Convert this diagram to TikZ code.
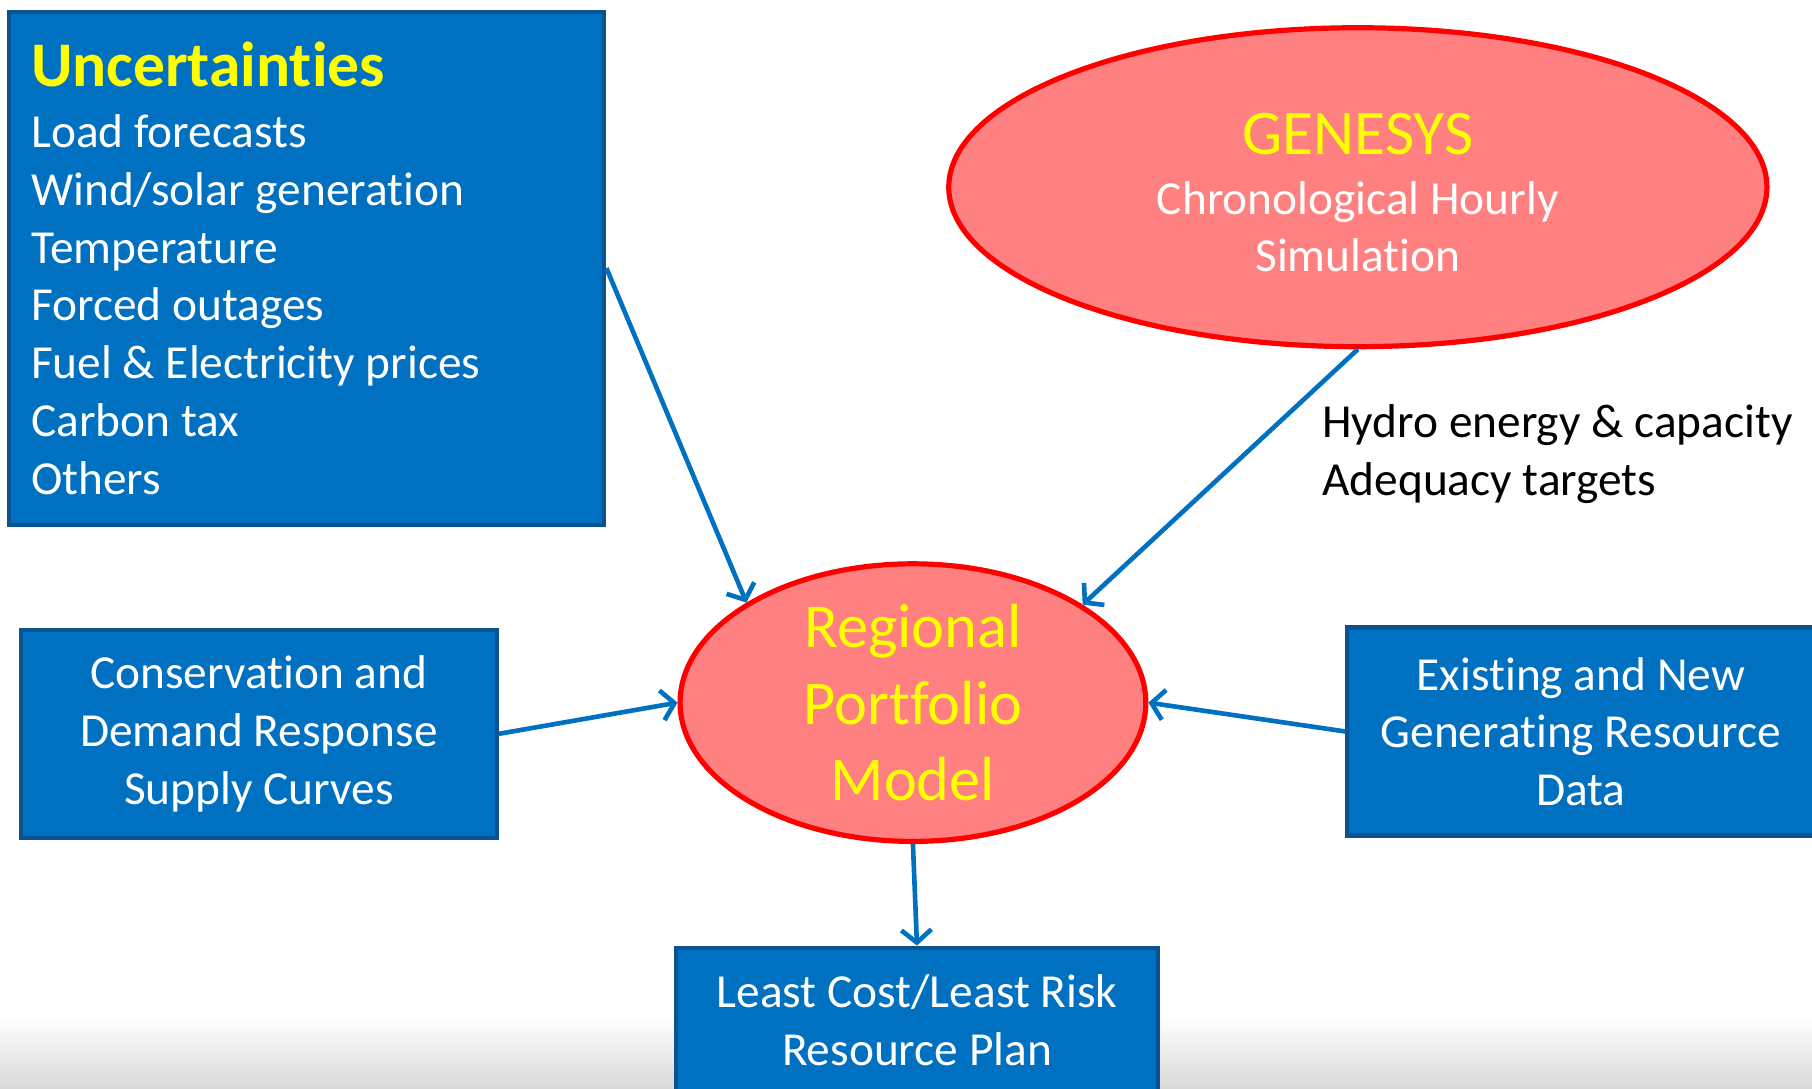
\documentclass[tikz,border=0pt]{standalone}
\usepackage{fontspec}
\setmainfont{Carlito}[RawFeature={-liga;-clig;-calt;-dlig}]
\usetikzlibrary{arrows.meta,shapes.geometric}
\definecolor{boxblue}{HTML}{0070C0}
\definecolor{boxedge}{HTML}{0A5391}
\definecolor{ovalfill}{HTML}{FF8080}
\definecolor{ovaledge}{HTML}{FF0000}
\definecolor{textyellow}{HTML}{FFFF00}
\definecolor{linkblue}{HTML}{0070C0}
\begin{document}
\begin{tikzpicture}[x=1pt,y=-1pt,
    bluebox/.style={draw=boxedge,line width=3.5pt,fill=boxblue,text=white,
      inner sep=0pt,align=center,font=\fontsize{41}{50}\selectfont},
    redoval/.style={ellipse,draw=ovaledge,line width=4.5pt,fill=ovalfill,
      inner sep=0pt,align=center},
    flow/.style={draw=linkblue,line width=4pt,
      -{Straight Barb[length=11pt,width=26pt]}}]
  \useasboundingbox (0,0) rectangle (1568,942);
  \shade[top color=white,bottom color=black!15] (0,880) rectangle (1568,942);
  \draw
    (265.5,232) node[bluebox,minimum width=515pt,minimum height=444pt,
      text width=477pt,align=left] (unc)
      {\spaceskip=0pt\xspaceskip=0pt
       {\fontsize{55}{60}\selectfont\bfseries\color{textyellow}Uncertainties}\\[3pt]
       Load forecasts\\ Wind/solar generation\\ Temperature\\ Forced outages\\
       Fuel \& Electricity prices\\ Carbon tax\\ Others}
    (1175,162) node[redoval,minimum width=708pt,minimum height=276pt,text=white,
      font=\fontsize{41}{50}\selectfont] (gen)
      {{\fontsize{55}{60}\selectfont\color{textyellow}\rule{0pt}{45pt}GENESYS}\\[2pt]
       Chronological Hourly\\ Simulation}
    (790,608) node[redoval,minimum width=403pt,minimum height=237pt,text=textyellow,
      font=\fontsize{54}{66}\selectfont] (rpm)
      {Regional\\ Portfolio\\ Model}
    (224,635) node[bluebox,minimum width=412pt,minimum height=180pt] (cons)
      {Conservation and\\ Demand Response\\ Supply Curves}
    (1368,633) node[bluebox,minimum width=404pt,minimum height=180pt] (exist)
      {Existing and New\\ Generating Resource\\ Data}
    (793.5,883) node[bluebox,minimum width=417pt,minimum height=126pt] (plan)
      {Least Cost/Least Risk\\ Resource Plan}
    (1144,393) node[anchor=west,align=left,inner sep=0pt,
      font=\fontsize{41}{50}\selectfont] (hydro)
      {Hydro energy \& capacity\\ Adequacy targets};
  \begin{scope}[flow]
    \draw (unc.east) to (rpm.149);
    \draw (gen.south) to (rpm.30);
    \draw (cons.east) to (rpm.west);
    \draw (exist.west) to (rpm.east);
    \draw (rpm.south) to (plan.north);
  \end{scope}
\end{tikzpicture}
\end{document}
